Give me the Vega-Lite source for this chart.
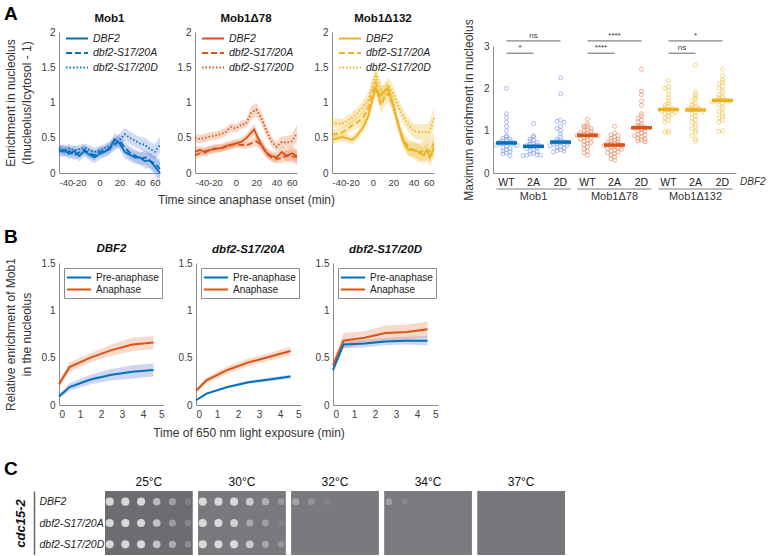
{
"$schema": "https://vega.github.io/schema/vega-lite/v6.json",
"padding": {"left": 4, "top": 4, "right": 0, "bottom": 0},
"background": "white",
"config": {
 "font": "Liberation Sans",
 "view": {"stroke": null},
 "axis": {"grid": false, "ticks": false, "labelOverlap": false, "domainColor": "#8c8c8c", "labelColor": "#3c3c3c", "labelFontSize": 10, "labelPadding": 4, "titleFontSize": 12, "titleFontWeight": "normal", "titleColor": "#333"},
 "title": {"fontSize": 11.5, "fontWeight": "bold", "color": "#111", "offset": 3},
 "legend": {"labelFontSize": 10.5, "labelColor": "#222"}
},
"datasets": {
 "lineA": [
  {"p":"Mob1","g":"DBF2","t":-40,"m":0.30,"e":0.08},{"p":"Mob1","g":"DBF2","t":-35,"m":0.33,"e":0.08},{"p":"Mob1","g":"DBF2","t":-30,"m":0.27,"e":0.08},{"p":"Mob1","g":"DBF2","t":-25,"m":0.31,"e":0.08},{"p":"Mob1","g":"DBF2","t":-20,"m":0.24,"e":0.08},{"p":"Mob1","g":"DBF2","t":-15,"m":0.31,"e":0.08},{"p":"Mob1","g":"DBF2","t":-10,"m":0.26,"e":0.08},{"p":"Mob1","g":"DBF2","t":-5,"m":0.22,"e":0.08},{"p":"Mob1","g":"DBF2","t":0,"m":0.27,"e":0.08},{"p":"Mob1","g":"DBF2","t":5,"m":0.30,"e":0.08},{"p":"Mob1","g":"DBF2","t":10,"m":0.34,"e":0.08},{"p":"Mob1","g":"DBF2","t":15,"m":0.48,"e":0.09},{"p":"Mob1","g":"DBF2","t":20,"m":0.42,"e":0.09},{"p":"Mob1","g":"DBF2","t":25,"m":0.30,"e":0.09},{"p":"Mob1","g":"DBF2","t":30,"m":0.26,"e":0.09},{"p":"Mob1","g":"DBF2","t":35,"m":0.22,"e":0.09},{"p":"Mob1","g":"DBF2","t":40,"m":0.22,"e":0.09},{"p":"Mob1","g":"DBF2","t":45,"m":0.17,"e":0.11},{"p":"Mob1","g":"DBF2","t":50,"m":0.18,"e":0.11},{"p":"Mob1","g":"DBF2","t":55,"m":0.09,"e":0.13},{"p":"Mob1","g":"DBF2","t":60,"m":0.0,"e":0.15},
  {"p":"Mob1","g":"dbf2-S17/20A","t":-40,"m":0.33,"e":0.07},{"p":"Mob1","g":"dbf2-S17/20A","t":-35,"m":0.30,"e":0.07},{"p":"Mob1","g":"dbf2-S17/20A","t":-30,"m":0.31,"e":0.07},{"p":"Mob1","g":"dbf2-S17/20A","t":-25,"m":0.25,"e":0.07},{"p":"Mob1","g":"dbf2-S17/20A","t":-20,"m":0.29,"e":0.07},{"p":"Mob1","g":"dbf2-S17/20A","t":-15,"m":0.33,"e":0.07},{"p":"Mob1","g":"dbf2-S17/20A","t":-10,"m":0.28,"e":0.07},{"p":"Mob1","g":"dbf2-S17/20A","t":-5,"m":0.25,"e":0.07},{"p":"Mob1","g":"dbf2-S17/20A","t":0,"m":0.30,"e":0.07},{"p":"Mob1","g":"dbf2-S17/20A","t":5,"m":0.31,"e":0.07},{"p":"Mob1","g":"dbf2-S17/20A","t":10,"m":0.35,"e":0.08},{"p":"Mob1","g":"dbf2-S17/20A","t":15,"m":0.40,"e":0.08},{"p":"Mob1","g":"dbf2-S17/20A","t":20,"m":0.46,"e":0.09},{"p":"Mob1","g":"dbf2-S17/20A","t":25,"m":0.36,"e":0.09},{"p":"Mob1","g":"dbf2-S17/20A","t":30,"m":0.29,"e":0.09},{"p":"Mob1","g":"dbf2-S17/20A","t":35,"m":0.25,"e":0.09},{"p":"Mob1","g":"dbf2-S17/20A","t":40,"m":0.20,"e":0.09},{"p":"Mob1","g":"dbf2-S17/20A","t":45,"m":0.22,"e":0.10},{"p":"Mob1","g":"dbf2-S17/20A","t":50,"m":0.17,"e":0.11},{"p":"Mob1","g":"dbf2-S17/20A","t":55,"m":0.13,"e":0.12},{"p":"Mob1","g":"dbf2-S17/20A","t":60,"m":0.06,"e":0.13},
  {"p":"Mob1","g":"dbf2-S17/20D","t":-40,"m":0.36,"e":0.06},{"p":"Mob1","g":"dbf2-S17/20D","t":-35,"m":0.32,"e":0.06},{"p":"Mob1","g":"dbf2-S17/20D","t":-30,"m":0.35,"e":0.06},{"p":"Mob1","g":"dbf2-S17/20D","t":-25,"m":0.32,"e":0.06},{"p":"Mob1","g":"dbf2-S17/20D","t":-20,"m":0.34,"e":0.06},{"p":"Mob1","g":"dbf2-S17/20D","t":-15,"m":0.36,"e":0.06},{"p":"Mob1","g":"dbf2-S17/20D","t":-10,"m":0.33,"e":0.06},{"p":"Mob1","g":"dbf2-S17/20D","t":-5,"m":0.30,"e":0.06},{"p":"Mob1","g":"dbf2-S17/20D","t":0,"m":0.32,"e":0.06},{"p":"Mob1","g":"dbf2-S17/20D","t":5,"m":0.35,"e":0.06},{"p":"Mob1","g":"dbf2-S17/20D","t":10,"m":0.38,"e":0.07},{"p":"Mob1","g":"dbf2-S17/20D","t":15,"m":0.42,"e":0.08},{"p":"Mob1","g":"dbf2-S17/20D","t":20,"m":0.47,"e":0.09},{"p":"Mob1","g":"dbf2-S17/20D","t":25,"m":0.55,"e":0.09},{"p":"Mob1","g":"dbf2-S17/20D","t":30,"m":0.50,"e":0.09},{"p":"Mob1","g":"dbf2-S17/20D","t":35,"m":0.46,"e":0.09},{"p":"Mob1","g":"dbf2-S17/20D","t":40,"m":0.42,"e":0.09},{"p":"Mob1","g":"dbf2-S17/20D","t":45,"m":0.40,"e":0.10},{"p":"Mob1","g":"dbf2-S17/20D","t":50,"m":0.34,"e":0.10},{"p":"Mob1","g":"dbf2-S17/20D","t":55,"m":0.30,"e":0.11},{"p":"Mob1","g":"dbf2-S17/20D","t":60,"m":0.40,"e":0.12},
  {"p":"Mob1Δ78","g":"DBF2","t":-40,"m":0.30,"e":0.06},{"p":"Mob1Δ78","g":"DBF2","t":-35,"m":0.33,"e":0.06},{"p":"Mob1Δ78","g":"DBF2","t":-30,"m":0.29,"e":0.06},{"p":"Mob1Δ78","g":"DBF2","t":-25,"m":0.33,"e":0.06},{"p":"Mob1Δ78","g":"DBF2","t":-20,"m":0.35,"e":0.06},{"p":"Mob1Δ78","g":"DBF2","t":-15,"m":0.35,"e":0.06},{"p":"Mob1Δ78","g":"DBF2","t":-10,"m":0.38,"e":0.06},{"p":"Mob1Δ78","g":"DBF2","t":-5,"m":0.40,"e":0.06},{"p":"Mob1Δ78","g":"DBF2","t":0,"m":0.42,"e":0.06},{"p":"Mob1Δ78","g":"DBF2","t":5,"m":0.44,"e":0.06},{"p":"Mob1Δ78","g":"DBF2","t":10,"m":0.49,"e":0.06},{"p":"Mob1Δ78","g":"DBF2","t":15,"m":0.57,"e":0.08},{"p":"Mob1Δ78","g":"DBF2","t":18,"m":0.62,"e":0.08},{"p":"Mob1Δ78","g":"DBF2","t":20,"m":0.55,"e":0.08},{"p":"Mob1Δ78","g":"DBF2","t":25,"m":0.40,"e":0.08},{"p":"Mob1Δ78","g":"DBF2","t":30,"m":0.29,"e":0.07},{"p":"Mob1Δ78","g":"DBF2","t":35,"m":0.24,"e":0.07},{"p":"Mob1Δ78","g":"DBF2","t":40,"m":0.22,"e":0.07},{"p":"Mob1Δ78","g":"DBF2","t":45,"m":0.30,"e":0.08},{"p":"Mob1Δ78","g":"DBF2","t":50,"m":0.24,"e":0.09},{"p":"Mob1Δ78","g":"DBF2","t":55,"m":0.28,"e":0.09},{"p":"Mob1Δ78","g":"DBF2","t":60,"m":0.24,"e":0.10},
  {"p":"Mob1Δ78","g":"dbf2-S17/20A","t":-40,"m":0.25,"e":0.05},{"p":"Mob1Δ78","g":"dbf2-S17/20A","t":-35,"m":0.28,"e":0.05},{"p":"Mob1Δ78","g":"dbf2-S17/20A","t":-30,"m":0.31,"e":0.05},{"p":"Mob1Δ78","g":"dbf2-S17/20A","t":-25,"m":0.33,"e":0.05},{"p":"Mob1Δ78","g":"dbf2-S17/20A","t":-20,"m":0.34,"e":0.05},{"p":"Mob1Δ78","g":"dbf2-S17/20A","t":-15,"m":0.35,"e":0.05},{"p":"Mob1Δ78","g":"dbf2-S17/20A","t":-10,"m":0.37,"e":0.05},{"p":"Mob1Δ78","g":"dbf2-S17/20A","t":-5,"m":0.39,"e":0.05},{"p":"Mob1Δ78","g":"dbf2-S17/20A","t":0,"m":0.41,"e":0.05},{"p":"Mob1Δ78","g":"dbf2-S17/20A","t":5,"m":0.40,"e":0.05},{"p":"Mob1Δ78","g":"dbf2-S17/20A","t":10,"m":0.39,"e":0.05},{"p":"Mob1Δ78","g":"dbf2-S17/20A","t":15,"m":0.42,"e":0.06},{"p":"Mob1Δ78","g":"dbf2-S17/20A","t":20,"m":0.45,"e":0.07},{"p":"Mob1Δ78","g":"dbf2-S17/20A","t":25,"m":0.40,"e":0.07},{"p":"Mob1Δ78","g":"dbf2-S17/20A","t":30,"m":0.28,"e":0.06},{"p":"Mob1Δ78","g":"dbf2-S17/20A","t":35,"m":0.22,"e":0.06},{"p":"Mob1Δ78","g":"dbf2-S17/20A","t":40,"m":0.20,"e":0.06},{"p":"Mob1Δ78","g":"dbf2-S17/20A","t":45,"m":0.21,"e":0.07},{"p":"Mob1Δ78","g":"dbf2-S17/20A","t":50,"m":0.25,"e":0.08},{"p":"Mob1Δ78","g":"dbf2-S17/20A","t":55,"m":0.24,"e":0.09},{"p":"Mob1Δ78","g":"dbf2-S17/20A","t":60,"m":0.22,"e":0.10},
  {"p":"Mob1Δ78","g":"dbf2-S17/20D","t":-40,"m":0.50,"e":0.06},{"p":"Mob1Δ78","g":"dbf2-S17/20D","t":-35,"m":0.48,"e":0.06},{"p":"Mob1Δ78","g":"dbf2-S17/20D","t":-30,"m":0.50,"e":0.06},{"p":"Mob1Δ78","g":"dbf2-S17/20D","t":-25,"m":0.52,"e":0.06},{"p":"Mob1Δ78","g":"dbf2-S17/20D","t":-20,"m":0.53,"e":0.06},{"p":"Mob1Δ78","g":"dbf2-S17/20D","t":-15,"m":0.55,"e":0.06},{"p":"Mob1Δ78","g":"dbf2-S17/20D","t":-10,"m":0.58,"e":0.06},{"p":"Mob1Δ78","g":"dbf2-S17/20D","t":-5,"m":0.65,"e":0.06},{"p":"Mob1Δ78","g":"dbf2-S17/20D","t":0,"m":0.63,"e":0.06},{"p":"Mob1Δ78","g":"dbf2-S17/20D","t":5,"m":0.68,"e":0.06},{"p":"Mob1Δ78","g":"dbf2-S17/20D","t":10,"m":0.70,"e":0.06},{"p":"Mob1Δ78","g":"dbf2-S17/20D","t":15,"m":0.85,"e":0.09},{"p":"Mob1Δ78","g":"dbf2-S17/20D","t":20,"m":0.90,"e":0.10},{"p":"Mob1Δ78","g":"dbf2-S17/20D","t":25,"m":0.78,"e":0.09},{"p":"Mob1Δ78","g":"dbf2-S17/20D","t":30,"m":0.60,"e":0.08},{"p":"Mob1Δ78","g":"dbf2-S17/20D","t":35,"m":0.45,"e":0.07},{"p":"Mob1Δ78","g":"dbf2-S17/20D","t":40,"m":0.37,"e":0.07},{"p":"Mob1Δ78","g":"dbf2-S17/20D","t":45,"m":0.44,"e":0.08},{"p":"Mob1Δ78","g":"dbf2-S17/20D","t":50,"m":0.43,"e":0.09},{"p":"Mob1Δ78","g":"dbf2-S17/20D","t":55,"m":0.45,"e":0.10},{"p":"Mob1Δ78","g":"dbf2-S17/20D","t":60,"m":0.56,"e":0.12},
  {"p":"Mob1Δ132","g":"DBF2","t":-40,"m":0.47,"e":0.06},{"p":"Mob1Δ132","g":"DBF2","t":-35,"m":0.49,"e":0.06},{"p":"Mob1Δ132","g":"DBF2","t":-30,"m":0.51,"e":0.06},{"p":"Mob1Δ132","g":"DBF2","t":-25,"m":0.49,"e":0.06},{"p":"Mob1Δ132","g":"DBF2","t":-20,"m":0.47,"e":0.06},{"p":"Mob1Δ132","g":"DBF2","t":-15,"m":0.54,"e":0.07},{"p":"Mob1Δ132","g":"DBF2","t":-10,"m":0.64,"e":0.08},{"p":"Mob1Δ132","g":"DBF2","t":-5,"m":0.78,"e":0.09},{"p":"Mob1Δ132","g":"DBF2","t":0,"m":1.05,"e":0.10},{"p":"Mob1Δ132","g":"DBF2","t":3,"m":1.20,"e":0.10},{"p":"Mob1Δ132","g":"DBF2","t":6,"m":1.08,"e":0.10},{"p":"Mob1Δ132","g":"DBF2","t":10,"m":1.15,"e":0.10},{"p":"Mob1Δ132","g":"DBF2","t":15,"m":1.19,"e":0.10},{"p":"Mob1Δ132","g":"DBF2","t":20,"m":0.96,"e":0.10},{"p":"Mob1Δ132","g":"DBF2","t":25,"m":0.68,"e":0.09},{"p":"Mob1Δ132","g":"DBF2","t":30,"m":0.44,"e":0.09},{"p":"Mob1Δ132","g":"DBF2","t":35,"m":0.33,"e":0.09},{"p":"Mob1Δ132","g":"DBF2","t":40,"m":0.33,"e":0.10},{"p":"Mob1Δ132","g":"DBF2","t":45,"m":0.30,"e":0.11},{"p":"Mob1Δ132","g":"DBF2","t":50,"m":0.25,"e":0.12},{"p":"Mob1Δ132","g":"DBF2","t":53,"m":0.33,"e":0.12},{"p":"Mob1Δ132","g":"DBF2","t":56,"m":0.22,"e":0.13},{"p":"Mob1Δ132","g":"DBF2","t":60,"m":0.36,"e":0.14},
  {"p":"Mob1Δ132","g":"dbf2-S17/20A","t":-40,"m":0.54,"e":0.07},{"p":"Mob1Δ132","g":"dbf2-S17/20A","t":-35,"m":0.56,"e":0.07},{"p":"Mob1Δ132","g":"dbf2-S17/20A","t":-30,"m":0.58,"e":0.07},{"p":"Mob1Δ132","g":"dbf2-S17/20A","t":-25,"m":0.62,"e":0.07},{"p":"Mob1Δ132","g":"dbf2-S17/20A","t":-20,"m":0.68,"e":0.08},{"p":"Mob1Δ132","g":"dbf2-S17/20A","t":-15,"m":0.72,"e":0.08},{"p":"Mob1Δ132","g":"dbf2-S17/20A","t":-10,"m":0.78,"e":0.09},{"p":"Mob1Δ132","g":"dbf2-S17/20A","t":-5,"m":0.90,"e":0.10},{"p":"Mob1Δ132","g":"dbf2-S17/20A","t":0,"m":1.15,"e":0.12},{"p":"Mob1Δ132","g":"dbf2-S17/20A","t":3,"m":1.28,"e":0.12},{"p":"Mob1Δ132","g":"dbf2-S17/20A","t":8,"m":0.96,"e":0.12},{"p":"Mob1Δ132","g":"dbf2-S17/20A","t":12,"m":1.08,"e":0.12},{"p":"Mob1Δ132","g":"dbf2-S17/20A","t":15,"m":1.13,"e":0.12},{"p":"Mob1Δ132","g":"dbf2-S17/20A","t":20,"m":0.96,"e":0.11},{"p":"Mob1Δ132","g":"dbf2-S17/20A","t":25,"m":0.68,"e":0.10},{"p":"Mob1Δ132","g":"dbf2-S17/20A","t":30,"m":0.47,"e":0.10},{"p":"Mob1Δ132","g":"dbf2-S17/20A","t":35,"m":0.36,"e":0.11},{"p":"Mob1Δ132","g":"dbf2-S17/20A","t":40,"m":0.33,"e":0.12},{"p":"Mob1Δ132","g":"dbf2-S17/20A","t":45,"m":0.28,"e":0.13},{"p":"Mob1Δ132","g":"dbf2-S17/20A","t":50,"m":0.33,"e":0.14},{"p":"Mob1Δ132","g":"dbf2-S17/20A","t":55,"m":0.30,"e":0.15},{"p":"Mob1Δ132","g":"dbf2-S17/20A","t":60,"m":0.42,"e":0.16},
  {"p":"Mob1Δ132","g":"dbf2-S17/20D","t":-40,"m":0.72,"e":0.07},{"p":"Mob1Δ132","g":"dbf2-S17/20D","t":-35,"m":0.70,"e":0.07},{"p":"Mob1Δ132","g":"dbf2-S17/20D","t":-30,"m":0.70,"e":0.07},{"p":"Mob1Δ132","g":"dbf2-S17/20D","t":-25,"m":0.74,"e":0.07},{"p":"Mob1Δ132","g":"dbf2-S17/20D","t":-20,"m":0.79,"e":0.08},{"p":"Mob1Δ132","g":"dbf2-S17/20D","t":-15,"m":0.85,"e":0.08},{"p":"Mob1Δ132","g":"dbf2-S17/20D","t":-10,"m":0.93,"e":0.09},{"p":"Mob1Δ132","g":"dbf2-S17/20D","t":-5,"m":1.02,"e":0.10},{"p":"Mob1Δ132","g":"dbf2-S17/20D","t":0,"m":1.25,"e":0.11},{"p":"Mob1Δ132","g":"dbf2-S17/20D","t":3,"m":1.42,"e":0.12},{"p":"Mob1Δ132","g":"dbf2-S17/20D","t":6,"m":1.25,"e":0.12},{"p":"Mob1Δ132","g":"dbf2-S17/20D","t":10,"m":1.12,"e":0.11},{"p":"Mob1Δ132","g":"dbf2-S17/20D","t":15,"m":1.25,"e":0.11},{"p":"Mob1Δ132","g":"dbf2-S17/20D","t":20,"m":1.12,"e":0.11},{"p":"Mob1Δ132","g":"dbf2-S17/20D","t":25,"m":0.95,"e":0.10},{"p":"Mob1Δ132","g":"dbf2-S17/20D","t":30,"m":0.80,"e":0.10},{"p":"Mob1Δ132","g":"dbf2-S17/20D","t":35,"m":0.68,"e":0.10},{"p":"Mob1Δ132","g":"dbf2-S17/20D","t":40,"m":0.60,"e":0.10},{"p":"Mob1Δ132","g":"dbf2-S17/20D","t":45,"m":0.58,"e":0.11},{"p":"Mob1Δ132","g":"dbf2-S17/20D","t":50,"m":0.58,"e":0.12},{"p":"Mob1Δ132","g":"dbf2-S17/20D","t":55,"m":0.58,"e":0.13},{"p":"Mob1Δ132","g":"dbf2-S17/20D","t":60,"m":0.78,"e":0.14}
 ],
 "lineB": [
  {"s":"DBF2","ph":"Anaphase","t":0,"m":0.22,"e":0.04},{"s":"DBF2","ph":"Anaphase","t":0.5,"m":0.40,"e":0.05},{"s":"DBF2","ph":"Anaphase","t":1.5,"m":0.50,"e":0.05},{"s":"DBF2","ph":"Anaphase","t":2.5,"m":0.58,"e":0.06},{"s":"DBF2","ph":"Anaphase","t":3.5,"m":0.64,"e":0.07},{"s":"DBF2","ph":"Anaphase","t":4.5,"m":0.66,"e":0.07},
  {"s":"DBF2","ph":"Pre-anaphase","t":0,"m":0.09,"e":0.02},{"s":"DBF2","ph":"Pre-anaphase","t":0.5,"m":0.19,"e":0.04},{"s":"DBF2","ph":"Pre-anaphase","t":1.5,"m":0.27,"e":0.05},{"s":"DBF2","ph":"Pre-anaphase","t":2.5,"m":0.32,"e":0.06},{"s":"DBF2","ph":"Pre-anaphase","t":3.5,"m":0.35,"e":0.07},{"s":"DBF2","ph":"Pre-anaphase","t":4.5,"m":0.37,"e":0.07},
  {"s":"dbf2-S17/20A","ph":"Anaphase","t":0,"m":0.15,"e":0.02},{"s":"dbf2-S17/20A","ph":"Anaphase","t":0.5,"m":0.26,"e":0.03},{"s":"dbf2-S17/20A","ph":"Anaphase","t":1.5,"m":0.37,"e":0.04},{"s":"dbf2-S17/20A","ph":"Anaphase","t":2.5,"m":0.45,"e":0.04},{"s":"dbf2-S17/20A","ph":"Anaphase","t":3.5,"m":0.51,"e":0.04},{"s":"dbf2-S17/20A","ph":"Anaphase","t":4.5,"m":0.57,"e":0.045},
  {"s":"dbf2-S17/20A","ph":"Pre-anaphase","t":0,"m":0.05,"e":0.01},{"s":"dbf2-S17/20A","ph":"Pre-anaphase","t":0.5,"m":0.12,"e":0.01},{"s":"dbf2-S17/20A","ph":"Pre-anaphase","t":1.5,"m":0.19,"e":0.012},{"s":"dbf2-S17/20A","ph":"Pre-anaphase","t":2.5,"m":0.24,"e":0.015},{"s":"dbf2-S17/20A","ph":"Pre-anaphase","t":3.5,"m":0.27,"e":0.02},{"s":"dbf2-S17/20A","ph":"Pre-anaphase","t":4.5,"m":0.30,"e":0.02},
  {"s":"dbf2-S17/20D","ph":"Anaphase","t":0,"m":0.42,"e":0.05},{"s":"dbf2-S17/20D","ph":"Anaphase","t":0.5,"m":0.68,"e":0.08},{"s":"dbf2-S17/20D","ph":"Anaphase","t":1.5,"m":0.71,"e":0.07},{"s":"dbf2-S17/20D","ph":"Anaphase","t":2.5,"m":0.76,"e":0.08},{"s":"dbf2-S17/20D","ph":"Anaphase","t":3.5,"m":0.77,"e":0.08},{"s":"dbf2-S17/20D","ph":"Anaphase","t":4.5,"m":0.80,"e":0.08},
  {"s":"dbf2-S17/20D","ph":"Pre-anaphase","t":0,"m":0.37,"e":0.04},{"s":"dbf2-S17/20D","ph":"Pre-anaphase","t":0.5,"m":0.64,"e":0.04},{"s":"dbf2-S17/20D","ph":"Pre-anaphase","t":1.5,"m":0.65,"e":0.04},{"s":"dbf2-S17/20D","ph":"Pre-anaphase","t":2.5,"m":0.67,"e":0.04},{"s":"dbf2-S17/20D","ph":"Pre-anaphase","t":3.5,"m":0.68,"e":0.04},{"s":"dbf2-S17/20D","ph":"Pre-anaphase","t":4.5,"m":0.68,"e":0.05}
 ],
 "dots": [
  {"c":"Mob1|WT","v":2.0},{"c":"Mob1|WT","v":1.40},{"c":"Mob1|WT","v":1.31},{"c":"Mob1|WT","v":1.20},{"c":"Mob1|WT","v":1.10},{"c":"Mob1|WT","v":1.00},{"c":"Mob1|WT","v":0.88},{"c":"Mob1|WT","v":0.85},{"c":"Mob1|WT","v":0.82},{"c":"Mob1|WT","v":0.80},{"c":"Mob1|WT","v":0.78},{"c":"Mob1|WT","v":0.76},{"c":"Mob1|WT","v":0.75},{"c":"Mob1|WT","v":0.73},{"c":"Mob1|WT","v":0.72},{"c":"Mob1|WT","v":0.71},{"c":"Mob1|WT","v":0.70},{"c":"Mob1|WT","v":0.70},{"c":"Mob1|WT","v":0.69},{"c":"Mob1|WT","v":0.68},{"c":"Mob1|WT","v":0.66},{"c":"Mob1|WT","v":0.65},{"c":"Mob1|WT","v":0.63},{"c":"Mob1|WT","v":0.60},{"c":"Mob1|WT","v":0.58},{"c":"Mob1|WT","v":0.55},{"c":"Mob1|WT","v":0.52},{"c":"Mob1|WT","v":0.50},{"c":"Mob1|WT","v":0.47},{"c":"Mob1|WT","v":0.45},{"c":"Mob1|WT","v":0.41},
  {"c":"Mob1|2A","v":1.17},{"c":"Mob1|2A","v":0.88},{"c":"Mob1|2A","v":0.85},{"c":"Mob1|2A","v":0.80},{"c":"Mob1|2A","v":0.78},{"c":"Mob1|2A","v":0.75},{"c":"Mob1|2A","v":0.72},{"c":"Mob1|2A","v":0.70},{"c":"Mob1|2A","v":0.68},{"c":"Mob1|2A","v":0.66},{"c":"Mob1|2A","v":0.65},{"c":"Mob1|2A","v":0.64},{"c":"Mob1|2A","v":0.63},{"c":"Mob1|2A","v":0.62},{"c":"Mob1|2A","v":0.60},{"c":"Mob1|2A","v":0.58},{"c":"Mob1|2A","v":0.55},{"c":"Mob1|2A","v":0.52},{"c":"Mob1|2A","v":0.50},{"c":"Mob1|2A","v":0.47},{"c":"Mob1|2A","v":0.45},{"c":"Mob1|2A","v":0.43},{"c":"Mob1|2A","v":0.42},{"c":"Mob1|2A","v":0.42},{"c":"Mob1|2A","v":0.41},
  {"c":"Mob1|2D","v":2.25},{"c":"Mob1|2D","v":1.87},{"c":"Mob1|2D","v":1.25},{"c":"Mob1|2D","v":1.22},{"c":"Mob1|2D","v":1.20},{"c":"Mob1|2D","v":1.10},{"c":"Mob1|2D","v":1.05},{"c":"Mob1|2D","v":1.00},{"c":"Mob1|2D","v":0.92},{"c":"Mob1|2D","v":0.85},{"c":"Mob1|2D","v":0.80},{"c":"Mob1|2D","v":0.77},{"c":"Mob1|2D","v":0.75},{"c":"Mob1|2D","v":0.74},{"c":"Mob1|2D","v":0.73},{"c":"Mob1|2D","v":0.72},{"c":"Mob1|2D","v":0.71},{"c":"Mob1|2D","v":0.70},{"c":"Mob1|2D","v":0.69},{"c":"Mob1|2D","v":0.68},{"c":"Mob1|2D","v":0.66},{"c":"Mob1|2D","v":0.64},{"c":"Mob1|2D","v":0.62},{"c":"Mob1|2D","v":0.60},{"c":"Mob1|2D","v":0.58},{"c":"Mob1|2D","v":0.55},{"c":"Mob1|2D","v":0.53},{"c":"Mob1|2D","v":0.52},{"c":"Mob1|2D","v":0.50},
  {"c":"Mob1Δ78|WT","v":1.27},{"c":"Mob1Δ78|WT","v":1.15},{"c":"Mob1Δ78|WT","v":1.12},{"c":"Mob1Δ78|WT","v":1.10},{"c":"Mob1Δ78|WT","v":1.08},{"c":"Mob1Δ78|WT","v":1.05},{"c":"Mob1Δ78|WT","v":1.02},{"c":"Mob1Δ78|WT","v":1.00},{"c":"Mob1Δ78|WT","v":0.98},{"c":"Mob1Δ78|WT","v":0.96},{"c":"Mob1Δ78|WT","v":0.94},{"c":"Mob1Δ78|WT","v":0.92},{"c":"Mob1Δ78|WT","v":0.91},{"c":"Mob1Δ78|WT","v":0.90},{"c":"Mob1Δ78|WT","v":0.90},{"c":"Mob1Δ78|WT","v":0.89},{"c":"Mob1Δ78|WT","v":0.88},{"c":"Mob1Δ78|WT","v":0.86},{"c":"Mob1Δ78|WT","v":0.84},{"c":"Mob1Δ78|WT","v":0.82},{"c":"Mob1Δ78|WT","v":0.80},{"c":"Mob1Δ78|WT","v":0.78},{"c":"Mob1Δ78|WT","v":0.75},{"c":"Mob1Δ78|WT","v":0.72},{"c":"Mob1Δ78|WT","v":0.70},{"c":"Mob1Δ78|WT","v":0.66},{"c":"Mob1Δ78|WT","v":0.62},{"c":"Mob1Δ78|WT","v":0.58},{"c":"Mob1Δ78|WT","v":0.52},{"c":"Mob1Δ78|WT","v":0.48},{"c":"Mob1Δ78|WT","v":0.42},
  {"c":"Mob1Δ78|2A","v":1.10},{"c":"Mob1Δ78|2A","v":0.95},{"c":"Mob1Δ78|2A","v":0.90},{"c":"Mob1Δ78|2A","v":0.88},{"c":"Mob1Δ78|2A","v":0.85},{"c":"Mob1Δ78|2A","v":0.82},{"c":"Mob1Δ78|2A","v":0.80},{"c":"Mob1Δ78|2A","v":0.78},{"c":"Mob1Δ78|2A","v":0.76},{"c":"Mob1Δ78|2A","v":0.74},{"c":"Mob1Δ78|2A","v":0.72},{"c":"Mob1Δ78|2A","v":0.70},{"c":"Mob1Δ78|2A","v":0.69},{"c":"Mob1Δ78|2A","v":0.68},{"c":"Mob1Δ78|2A","v":0.67},{"c":"Mob1Δ78|2A","v":0.66},{"c":"Mob1Δ78|2A","v":0.65},{"c":"Mob1Δ78|2A","v":0.63},{"c":"Mob1Δ78|2A","v":0.62},{"c":"Mob1Δ78|2A","v":0.60},{"c":"Mob1Δ78|2A","v":0.58},{"c":"Mob1Δ78|2A","v":0.56},{"c":"Mob1Δ78|2A","v":0.54},{"c":"Mob1Δ78|2A","v":0.52},{"c":"Mob1Δ78|2A","v":0.50},{"c":"Mob1Δ78|2A","v":0.48},{"c":"Mob1Δ78|2A","v":0.45},{"c":"Mob1Δ78|2A","v":0.42},{"c":"Mob1Δ78|2A","v":0.38},{"c":"Mob1Δ78|2A","v":0.34},{"c":"Mob1Δ78|2A","v":0.30},
  {"c":"Mob1Δ78|2D","v":2.45},{"c":"Mob1Δ78|2D","v":1.93},{"c":"Mob1Δ78|2D","v":1.85},{"c":"Mob1Δ78|2D","v":1.70},{"c":"Mob1Δ78|2D","v":1.60},{"c":"Mob1Δ78|2D","v":1.40},{"c":"Mob1Δ78|2D","v":1.35},{"c":"Mob1Δ78|2D","v":1.30},{"c":"Mob1Δ78|2D","v":1.25},{"c":"Mob1Δ78|2D","v":1.20},{"c":"Mob1Δ78|2D","v":1.15},{"c":"Mob1Δ78|2D","v":1.12},{"c":"Mob1Δ78|2D","v":1.10},{"c":"Mob1Δ78|2D","v":1.08},{"c":"Mob1Δ78|2D","v":1.07},{"c":"Mob1Δ78|2D","v":1.05},{"c":"Mob1Δ78|2D","v":1.02},{"c":"Mob1Δ78|2D","v":1.00},{"c":"Mob1Δ78|2D","v":0.98},{"c":"Mob1Δ78|2D","v":0.95},{"c":"Mob1Δ78|2D","v":0.92},{"c":"Mob1Δ78|2D","v":0.90},{"c":"Mob1Δ78|2D","v":0.88},{"c":"Mob1Δ78|2D","v":0.85},{"c":"Mob1Δ78|2D","v":0.82},{"c":"Mob1Δ78|2D","v":0.80},{"c":"Mob1Δ78|2D","v":0.78},{"c":"Mob1Δ78|2D","v":0.76},{"c":"Mob1Δ78|2D","v":0.74},
  {"c":"Mob1Δ132|WT","v":2.18},{"c":"Mob1Δ132|WT","v":2.05},{"c":"Mob1Δ132|WT","v":2.00},{"c":"Mob1Δ132|WT","v":1.95},{"c":"Mob1Δ132|WT","v":1.85},{"c":"Mob1Δ132|WT","v":1.78},{"c":"Mob1Δ132|WT","v":1.70},{"c":"Mob1Δ132|WT","v":1.65},{"c":"Mob1Δ132|WT","v":1.60},{"c":"Mob1Δ132|WT","v":1.57},{"c":"Mob1Δ132|WT","v":1.55},{"c":"Mob1Δ132|WT","v":1.52},{"c":"Mob1Δ132|WT","v":1.50},{"c":"Mob1Δ132|WT","v":1.50},{"c":"Mob1Δ132|WT","v":1.48},{"c":"Mob1Δ132|WT","v":1.46},{"c":"Mob1Δ132|WT","v":1.44},{"c":"Mob1Δ132|WT","v":1.42},{"c":"Mob1Δ132|WT","v":1.40},{"c":"Mob1Δ132|WT","v":1.38},{"c":"Mob1Δ132|WT","v":1.35},{"c":"Mob1Δ132|WT","v":1.30},{"c":"Mob1Δ132|WT","v":1.25},{"c":"Mob1Δ132|WT","v":1.20},{"c":"Mob1Δ132|WT","v":1.00},{"c":"Mob1Δ132|WT","v":0.97},{"c":"Mob1Δ132|WT","v":0.95},
  {"c":"Mob1Δ132|2A","v":2.55},{"c":"Mob1Δ132|2A","v":1.92},{"c":"Mob1Δ132|2A","v":1.85},{"c":"Mob1Δ132|2A","v":1.80},{"c":"Mob1Δ132|2A","v":1.75},{"c":"Mob1Δ132|2A","v":1.70},{"c":"Mob1Δ132|2A","v":1.65},{"c":"Mob1Δ132|2A","v":1.60},{"c":"Mob1Δ132|2A","v":1.57},{"c":"Mob1Δ132|2A","v":1.55},{"c":"Mob1Δ132|2A","v":1.53},{"c":"Mob1Δ132|2A","v":1.52},{"c":"Mob1Δ132|2A","v":1.51},{"c":"Mob1Δ132|2A","v":1.50},{"c":"Mob1Δ132|2A","v":1.50},{"c":"Mob1Δ132|2A","v":1.49},{"c":"Mob1Δ132|2A","v":1.45},{"c":"Mob1Δ132|2A","v":1.42},{"c":"Mob1Δ132|2A","v":1.40},{"c":"Mob1Δ132|2A","v":1.35},{"c":"Mob1Δ132|2A","v":1.30},{"c":"Mob1Δ132|2A","v":1.25},{"c":"Mob1Δ132|2A","v":1.20},{"c":"Mob1Δ132|2A","v":1.15},{"c":"Mob1Δ132|2A","v":1.10},{"c":"Mob1Δ132|2A","v":1.05},{"c":"Mob1Δ132|2A","v":1.00},{"c":"Mob1Δ132|2A","v":0.95},{"c":"Mob1Δ132|2A","v":0.88},{"c":"Mob1Δ132|2A","v":0.80},{"c":"Mob1Δ132|2A","v":0.75},
  {"c":"Mob1Δ132|2D","v":2.45},{"c":"Mob1Δ132|2D","v":2.30},{"c":"Mob1Δ132|2D","v":2.20},{"c":"Mob1Δ132|2D","v":2.15},{"c":"Mob1Δ132|2D","v":2.10},{"c":"Mob1Δ132|2D","v":2.05},{"c":"Mob1Δ132|2D","v":2.00},{"c":"Mob1Δ132|2D","v":1.95},{"c":"Mob1Δ132|2D","v":1.90},{"c":"Mob1Δ132|2D","v":1.85},{"c":"Mob1Δ132|2D","v":1.80},{"c":"Mob1Δ132|2D","v":1.78},{"c":"Mob1Δ132|2D","v":1.75},{"c":"Mob1Δ132|2D","v":1.73},{"c":"Mob1Δ132|2D","v":1.72},{"c":"Mob1Δ132|2D","v":1.71},{"c":"Mob1Δ132|2D","v":1.70},{"c":"Mob1Δ132|2D","v":1.68},{"c":"Mob1Δ132|2D","v":1.65},{"c":"Mob1Δ132|2D","v":1.60},{"c":"Mob1Δ132|2D","v":1.55},{"c":"Mob1Δ132|2D","v":1.50},{"c":"Mob1Δ132|2D","v":1.45},{"c":"Mob1Δ132|2D","v":1.40},{"c":"Mob1Δ132|2D","v":1.35},{"c":"Mob1Δ132|2D","v":1.30},{"c":"Mob1Δ132|2D","v":1.25},{"c":"Mob1Δ132|2D","v":1.20},{"c":"Mob1Δ132|2D","v":1.00},{"c":"Mob1Δ132|2D","v":0.98}
 ],
 "sig": [
  {"a":"Mob1|WT","b":"Mob1|2A","y":2.83,"s":"*","k":"short"},
  {"a":"Mob1|WT","b":"Mob1|2D","y":3.12,"s":"ns","k":"long","mid":"Mob1|2A"},
  {"a":"Mob1Δ78|WT","b":"Mob1Δ78|2A","y":2.83,"s":"****","k":"short"},
  {"a":"Mob1Δ78|WT","b":"Mob1Δ78|2D","y":3.12,"s":"****","k":"long","mid":"Mob1Δ78|2A"},
  {"a":"Mob1Δ132|WT","b":"Mob1Δ132|2A","y":2.83,"s":"ns","k":"short"},
  {"a":"Mob1Δ132|WT","b":"Mob1Δ132|2D","y":3.12,"s":"*","k":"long","mid":"Mob1Δ132|2A"}
 ],
 "groups": [
  {"g":"Mob1","a":"Mob1|WT","b":"Mob1|2D","mid":"Mob1|2A"},
  {"g":"Mob1Δ78","a":"Mob1Δ78|WT","b":"Mob1Δ78|2D","mid":"Mob1Δ78|2A"},
  {"g":"Mob1Δ132","a":"Mob1Δ132|WT","b":"Mob1Δ132|2D","mid":"Mob1Δ132|2A"}
 ],
 "plates": [{"temp":"25°C"},{"temp":"30°C"},{"temp":"32°C"},{"temp":"34°C"},{"temp":"37°C"}],
 "spots": [
  {"temp":"25°C","strain":"DBF2","dil":1,"gr":1},{"temp":"25°C","strain":"DBF2","dil":2,"gr":1},{"temp":"25°C","strain":"DBF2","dil":3,"gr":1},{"temp":"25°C","strain":"DBF2","dil":4,"gr":0.7},{"temp":"25°C","strain":"DBF2","dil":5,"gr":0.5},{"temp":"25°C","strain":"DBF2","dil":6,"gr":0.2},
  {"temp":"25°C","strain":"dbf2-S17/20A","dil":1,"gr":1},{"temp":"25°C","strain":"dbf2-S17/20A","dil":2,"gr":1},{"temp":"25°C","strain":"dbf2-S17/20A","dil":3,"gr":1},{"temp":"25°C","strain":"dbf2-S17/20A","dil":4,"gr":0.8},{"temp":"25°C","strain":"dbf2-S17/20A","dil":5,"gr":0.45},{"temp":"25°C","strain":"dbf2-S17/20A","dil":6,"gr":0.25},
  {"temp":"25°C","strain":"dbf2-S17/20D","dil":1,"gr":1},{"temp":"25°C","strain":"dbf2-S17/20D","dil":2,"gr":1},{"temp":"25°C","strain":"dbf2-S17/20D","dil":3,"gr":1},{"temp":"25°C","strain":"dbf2-S17/20D","dil":4,"gr":0.8},{"temp":"25°C","strain":"dbf2-S17/20D","dil":5,"gr":0.6},{"temp":"25°C","strain":"dbf2-S17/20D","dil":6,"gr":0.3},
  {"temp":"30°C","strain":"DBF2","dil":1,"gr":1},{"temp":"30°C","strain":"DBF2","dil":2,"gr":1},{"temp":"30°C","strain":"DBF2","dil":3,"gr":1},{"temp":"30°C","strain":"DBF2","dil":4,"gr":0.85},{"temp":"30°C","strain":"DBF2","dil":5,"gr":0.6},{"temp":"30°C","strain":"DBF2","dil":6,"gr":0.35},
  {"temp":"30°C","strain":"dbf2-S17/20A","dil":1,"gr":1},{"temp":"30°C","strain":"dbf2-S17/20A","dil":2,"gr":1},{"temp":"30°C","strain":"dbf2-S17/20A","dil":3,"gr":0.9},{"temp":"30°C","strain":"dbf2-S17/20A","dil":4,"gr":0.5},{"temp":"30°C","strain":"dbf2-S17/20A","dil":5,"gr":0.4},{"temp":"30°C","strain":"dbf2-S17/20A","dil":6,"gr":0.1},
  {"temp":"30°C","strain":"dbf2-S17/20D","dil":1,"gr":1},{"temp":"30°C","strain":"dbf2-S17/20D","dil":2,"gr":1},{"temp":"30°C","strain":"dbf2-S17/20D","dil":3,"gr":1},{"temp":"30°C","strain":"dbf2-S17/20D","dil":4,"gr":0.85},{"temp":"30°C","strain":"dbf2-S17/20D","dil":5,"gr":0.5},{"temp":"30°C","strain":"dbf2-S17/20D","dil":6,"gr":0.3},
  {"temp":"32°C","strain":"DBF2","dil":1,"gr":0.45},{"temp":"32°C","strain":"DBF2","dil":2,"gr":0.28},{"temp":"32°C","strain":"DBF2","dil":3,"gr":0.1},
  {"temp":"34°C","strain":"DBF2","dil":1,"gr":0.4},{"temp":"34°C","strain":"DBF2","dil":2,"gr":0.15}
 ]
},
"columns": 1,
"align": "none",
"spacing": 22,
"concat": [
 {
  "title": {"text": "A", "anchor": "start", "fontSize": 19, "fontWeight": "bold", "color": "#000", "offset": -11},
  "bounds": "flush",
  "spacing": 0,
  "resolve": {"scale": {"strokeDash": "independent", "color": "independent", "stroke": "independent", "x": "independent", "y": "independent"}, "legend": {"strokeDash": "independent", "color": "independent", "stroke": "independent"}},
  "hconcat": [
   {
    "width": 101, "height": 141,
    "title": {"text": "Mob1"},
    "data": {"name": "lineA"},
    "transform": [{"filter": "datum.p == 'Mob1'"}],
    "encoding": {
     "x": {"field": "t", "type": "quantitative", "scale": {"domain": [-40, 60]}, "axis": {"values": [-40, -20, 0, 20, 40, 60], "title": null, "labelFontSize": 9.5, "labelExpr": "replace(datum.label, '−', '-')"}},
     "y": {"field": "m", "type": "quantitative", "scale": {"domain": [0, 2]}, "axis": {"values": [0, 0.5, 1, 1.5, 2], "format": "~g", "title": ["Enrichment in nucleolus", "(Inucleolus/Icytosol - 1)"], "titlePadding": 8, "titleLineHeight": 16}}
    },
    "layer": [
     {"mark": {"type": "errorband", "color": "#5b7fd9", "band": {"opacity": 0.28}}, "encoding": {"yError": {"field": "e"}, "detail": {"field": "g"}}},
     {"mark": {"type": "line", "color": "#0072BD", "strokeWidth": 1.8}, "encoding": {"strokeDash": {"field": "g", "type": "nominal", "scale": {"domain": ["DBF2", "dbf2-S17/20A", "dbf2-S17/20D"], "range": [[1, 0], [6, 3], [1.5, 2]]}, "legend": {"orient": "top-left", "title": null, "offset": 0, "padding": 0, "symbolType": "M-2,0H2", "symbolSize": 121, "symbolOffset": 11.5, "labelOffset": 9.5, "rowPadding": 2.5, "labelFontStyle": "italic", "symbolStrokeColor": "#0072BD", "symbolStrokeWidth": 1.8, "symbolFillColor": "transparent"}}}}
    ]
   },
   {"width": 35, "height": 141, "mark": "point", "data": {"values": []}},
   {
    "width": 102, "height": 141,
    "title": {"text": "Mob1Δ78"},
    "data": {"name": "lineA"},
    "transform": [{"filter": "datum.p == 'Mob1Δ78'"}],
    "encoding": {
     "x": {"field": "t", "type": "quantitative", "scale": {"domain": [-40, 60]}, "axis": {"values": [-40, -20, 0, 20, 40, 60], "title": "Time since anaphase onset (min)", "titlePadding": 8, "labelFontSize": 9.5, "labelExpr": "replace(datum.label, '−', '-')"}},
     "y": {"field": "m", "type": "quantitative", "scale": {"domain": [0, 2]}, "axis": {"values": [0, 0.5, 1, 1.5, 2], "format": "~g", "title": null}}
    },
    "layer": [
     {"mark": {"type": "errorband", "color": "#e8733a", "band": {"opacity": 0.28}}, "encoding": {"yError": {"field": "e"}, "detail": {"field": "g"}}},
     {"mark": {"type": "line", "color": "#D95319", "strokeWidth": 1.8}, "encoding": {"strokeDash": {"field": "g", "type": "nominal", "scale": {"domain": ["DBF2", "dbf2-S17/20A", "dbf2-S17/20D"], "range": [[1, 0], [6, 3], [1.5, 2]]}, "legend": {"orient": "top-left", "title": null, "offset": 0, "padding": 0, "symbolType": "M-2,0H2", "symbolSize": 121, "symbolOffset": 11.5, "labelOffset": 9.5, "rowPadding": 2.5, "labelFontStyle": "italic", "symbolStrokeColor": "#D95319", "symbolStrokeWidth": 1.8, "symbolFillColor": "transparent"}}}}
    ]
   },
   {"width": 35, "height": 141, "mark": "point", "data": {"values": []}},
   {
    "width": 102, "height": 141,
    "title": {"text": "Mob1Δ132"},
    "data": {"name": "lineA"},
    "transform": [{"filter": "datum.p == 'Mob1Δ132'"}],
    "encoding": {
     "x": {"field": "t", "type": "quantitative", "scale": {"domain": [-40, 60]}, "axis": {"values": [-40, -20, 0, 20, 40, 60], "title": null, "labelFontSize": 9.5, "labelExpr": "replace(datum.label, '−', '-')"}},
     "y": {"field": "m", "type": "quantitative", "scale": {"domain": [0, 2]}, "axis": {"values": [0, 0.5, 1, 1.5, 2], "format": "~g", "title": null}}
    },
    "layer": [
     {"mark": {"type": "errorband", "color": "#f0b830", "band": {"opacity": 0.3}}, "encoding": {"yError": {"field": "e"}, "detail": {"field": "g"}}},
     {"mark": {"type": "line", "color": "#EDB120", "strokeWidth": 1.8}, "encoding": {"strokeDash": {"field": "g", "type": "nominal", "scale": {"domain": ["DBF2", "dbf2-S17/20A", "dbf2-S17/20D"], "range": [[1, 0], [6, 3], [1.5, 2]]}, "legend": {"orient": "top-left", "title": null, "offset": 0, "padding": 0, "symbolType": "M-2,0H2", "symbolSize": 121, "symbolOffset": 11.5, "labelOffset": 9.5, "rowPadding": 2.5, "labelFontStyle": "italic", "symbolStrokeColor": "#EDB120", "symbolStrokeWidth": 1.8, "symbolFillColor": "transparent"}}}}
    ]
   },
   {"width": 59, "height": 141, "mark": "point", "data": {"values": []}},
   {
    "width": 243, "height": 141,
    "layer": [
     {
      "data": {"name": "dots"},
      "transform": [
       {"bin": {"step": 0.08, "extent": [0, 3]}, "field": "v", "as": "vb"},
       {"window": [{"op": "row_number", "as": "r"}], "groupby": ["c", "vb"], "sort": [{"field": "v", "order": "descending"}]}
      ],
      "resolve": {"scale": {"xOffset": "independent"}},
      "layer": [
       {
        "transform": [{"filter": "datum.r % 2 == 1"}],
        "mark": {"type": "point", "filled": false, "size": 16, "strokeWidth": 0.8, "opacity": 0.8},
        "encoding": {
         "x": {"field": "c", "type": "nominal"},
         "xOffset": {"field": "r", "type": "quantitative", "scale": {"domain": [1, 21], "range": [13.5, 48.5], "zero": false, "nice": false}},
         "y": {"field": "v", "type": "quantitative"},
         "stroke": {"field": "c", "type": "nominal", "scale": {"domain": ["Mob1|WT","Mob1|2A","Mob1|2D","Mob1Δ78|WT","Mob1Δ78|2A","Mob1Δ78|2D","Mob1Δ132|WT","Mob1Δ132|2A","Mob1Δ132|2D"], "range": ["#7d98e3","#7d98e3","#7d98e3","#e4845a","#e4845a","#e4845a","#f1c14a","#f1c14a","#f1c14a"]}, "legend": null}
        }
       },
       {
        "transform": [{"filter": "datum.r % 2 == 0"}],
        "mark": {"type": "point", "filled": false, "size": 16, "strokeWidth": 0.8, "opacity": 0.8},
        "encoding": {
         "x": {"field": "c", "type": "nominal"},
         "xOffset": {"field": "r", "type": "quantitative", "scale": {"domain": [0, 20], "range": [13.5, -21.5], "zero": false, "nice": false}},
         "y": {"field": "v", "type": "quantitative"},
         "stroke": {"field": "c", "type": "nominal", "legend": null}
        }
       },
       {
        "mark": {"type": "tick", "thickness": 3.5, "size": 21},
        "encoding": {
         "x": {"field": "c", "type": "nominal"},
         "y": {"field": "v", "type": "quantitative", "aggregate": "median"},
         "color": {"field": "c", "type": "nominal", "scale": {"domain": ["Mob1|WT","Mob1|2A","Mob1|2D","Mob1Δ78|WT","Mob1Δ78|2A","Mob1Δ78|2D","Mob1Δ132|WT","Mob1Δ132|2A","Mob1Δ132|2D"], "range": ["#0072BD","#0072BD","#0072BD","#D95319","#D95319","#D95319","#EDB120","#EDB120","#EDB120"]}, "legend": null}
        }
       }
      ]
     },
     {
      "data": {"name": "sig"},
      "mark": {"type": "rule", "color": "#555", "strokeWidth": 0.9},
      "encoding": {
       "x": {"field": "a", "type": "nominal", "bandPosition": 0.5},
       "x2": {"field": "b", "bandPosition": 0.5},
       "y": {"field": "y", "type": "quantitative"}
      }
     },
     {
      "data": {"name": "sig"},
      "transform": [{"filter": "datum.k == 'short'"}],
      "mark": {"type": "text", "fontSize": 8, "color": "#333", "baseline": "bottom", "dy": -1},
      "encoding": {
       "x": {"field": "b", "type": "nominal", "bandPosition": 0},
       "y": {"field": "y", "type": "quantitative"},
       "text": {"field": "s"},
       "fontStyle": {"condition": {"test": "datum.s == 'ns'", "value": "italic"}, "value": "normal"}
      }
     },
     {
      "data": {"name": "sig"},
      "transform": [{"filter": "datum.k == 'long'"}],
      "mark": {"type": "text", "fontSize": 8, "color": "#333", "baseline": "bottom", "dy": -1},
      "encoding": {
       "x": {"field": "mid", "type": "nominal", "bandPosition": 0.5},
       "y": {"field": "y", "type": "quantitative"},
       "text": {"field": "s"},
       "fontStyle": {"condition": {"test": "datum.s == 'ns'", "value": "italic"}, "value": "normal"}
      }
     },
     {
      "data": {"name": "groups"},
      "mark": {"type": "rule", "color": "#bdbdbd", "strokeWidth": 2},
      "encoding": {
       "x": {"field": "a", "type": "nominal", "bandPosition": 0.13},
       "x2": {"field": "b", "bandPosition": 0.87},
       "y": {"datum": -0.38}
      }
     },
     {
      "data": {"name": "groups"},
      "mark": {"type": "text", "fontSize": 11, "color": "#333", "baseline": "middle"},
      "encoding": {
       "x": {"field": "mid", "type": "nominal", "bandPosition": 0.5},
       "y": {"datum": -0.56},
       "text": {"field": "g"}
      }
     },
     {
      "data": {"values": [{"lab": "DBF2"}]},
      "mark": {"type": "text", "fontSize": 10, "fontStyle": "italic", "color": "#333", "align": "left", "baseline": "middle", "dx": 4},
      "encoding": {
       "x": {"datum": "Mob1Δ132|2D", "type": "nominal", "bandPosition": 1},
       "y": {"datum": -0.21},
       "text": {"field": "lab"}
      }
     }
    ],
    "encoding": {
     "x": {"type": "nominal", "scale": {"domain": ["Mob1|WT","Mob1|2A","Mob1|2D","Mob1Δ78|WT","Mob1Δ78|2A","Mob1Δ78|2D","Mob1Δ132|WT","Mob1Δ132|2A","Mob1Δ132|2D"], "paddingInner": 0, "paddingOuter": 0}, "axis": {"title": null, "labelExpr": "split(datum.value, '|')[1]", "labelAngle": 0, "labelColor": "#222", "labelFontSize": 10.5, "labelPadding": 4}},
     "y": {"type": "quantitative", "scale": {"domain": [0, 3], "range": [141, 14], "nice": false}, "axis": {"values": [0, 1, 2, 3], "title": "Maximum enrichment in nucleolus", "titlePadding": 8}}
    }
   }
  ]
 },
 {
  "title": {"text": "B", "anchor": "start", "fontSize": 19, "fontWeight": "bold", "color": "#000", "offset": -4},
  "bounds": "flush",
  "spacing": 32,
  "resolve": {"scale": {"color": "independent", "x": "independent", "y": "independent"}, "legend": {"color": "independent"}},
  "hconcat": [
   {
    "width": 105, "height": 142,
    "title": {"text": "DBF2", "fontStyle": "italic"},
    "data": {"name": "lineB"},
    "transform": [{"filter": "datum.s == 'DBF2'"}],
    "encoding": {
     "x": {"field": "t", "type": "quantitative", "scale": {"domain": [0, 5]}, "axis": {"values": [0, 1, 2, 3, 4, 5], "title": null}},
     "y": {"field": "m", "type": "quantitative", "scale": {"domain": [0, 1.5]}, "axis": {"values": [0, 0.5, 1, 1.5], "format": "~g", "title": ["Relative enrichment of Mob1", "in the nucleolus"], "titlePadding": 8, "titleLineHeight": 16}}
    },
    "layer": [
     {"transform": [{"filter": "datum.ph == 'Pre-anaphase'"}], "mark": {"type": "errorband", "color": "#5d78d8", "band": {"opacity": 0.3}}, "encoding": {"yError": {"field": "e"}}},
     {"transform": [{"filter": "datum.ph == 'Anaphase'"}], "mark": {"type": "errorband", "color": "#e8834f", "band": {"opacity": 0.3}}, "encoding": {"yError": {"field": "e"}}},
     {"mark": {"type": "line", "strokeWidth": 2}, "encoding": {"color": {"field": "ph", "type": "nominal", "scale": {"domain": ["Pre-anaphase", "Anaphase"], "range": ["#0072BD", "#D95319"]}, "legend": {"orient": "top-left", "title": null, "offset": 5, "padding": 3, "strokeColor": "#8c8c8c", "fillColor": "white", "symbolType": "M-2.2,0H2.2", "symbolSize": 121, "symbolOffset": 5.5, "symbolStrokeWidth": 2, "symbolFillColor": "transparent", "labelOffset": 10.5, "labelFontSize": 10, "rowPadding": -1}}}}
    ]
   },
   {
    "width": 105, "height": 142,
    "title": {"text": "dbf2-S17/20A", "fontStyle": "italic"},
    "data": {"name": "lineB"},
    "transform": [{"filter": "datum.s == 'dbf2-S17/20A'"}],
    "encoding": {
     "x": {"field": "t", "type": "quantitative", "scale": {"domain": [0, 5]}, "axis": {"values": [0, 1, 2, 3, 4, 5], "title": "Time of 650 nm light exposure (min)", "titlePadding": 8}},
     "y": {"field": "m", "type": "quantitative", "scale": {"domain": [0, 1.5]}, "axis": {"values": [0, 0.5, 1, 1.5], "format": "~g", "title": null}}
    },
    "layer": [
     {"transform": [{"filter": "datum.ph == 'Pre-anaphase'"}], "mark": {"type": "errorband", "color": "#5d78d8", "band": {"opacity": 0.3}}, "encoding": {"yError": {"field": "e"}}},
     {"transform": [{"filter": "datum.ph == 'Anaphase'"}], "mark": {"type": "errorband", "color": "#e8834f", "band": {"opacity": 0.3}}, "encoding": {"yError": {"field": "e"}}},
     {"mark": {"type": "line", "strokeWidth": 2}, "encoding": {"color": {"field": "ph", "type": "nominal", "scale": {"domain": ["Pre-anaphase", "Anaphase"], "range": ["#0072BD", "#D95319"]}, "legend": {"orient": "top-left", "title": null, "offset": 5, "padding": 3, "strokeColor": "#8c8c8c", "fillColor": "white", "symbolType": "M-2.2,0H2.2", "symbolSize": 121, "symbolOffset": 5.5, "symbolStrokeWidth": 2, "symbolFillColor": "transparent", "labelOffset": 10.5, "labelFontSize": 10, "rowPadding": -1}}}}
    ]
   },
   {
    "width": 105, "height": 142,
    "title": {"text": "dbf2-S17/20D", "fontStyle": "italic"},
    "data": {"name": "lineB"},
    "transform": [{"filter": "datum.s == 'dbf2-S17/20D'"}],
    "encoding": {
     "x": {"field": "t", "type": "quantitative", "scale": {"domain": [0, 5]}, "axis": {"values": [0, 1, 2, 3, 4, 5], "title": null}},
     "y": {"field": "m", "type": "quantitative", "scale": {"domain": [0, 1.5]}, "axis": {"values": [0, 0.5, 1, 1.5], "format": "~g", "title": null}}
    },
    "layer": [
     {"transform": [{"filter": "datum.ph == 'Pre-anaphase'"}], "mark": {"type": "errorband", "color": "#5d78d8", "band": {"opacity": 0.3}}, "encoding": {"yError": {"field": "e"}}},
     {"transform": [{"filter": "datum.ph == 'Anaphase'"}], "mark": {"type": "errorband", "color": "#e8834f", "band": {"opacity": 0.3}}, "encoding": {"yError": {"field": "e"}}},
     {"mark": {"type": "line", "strokeWidth": 2}, "encoding": {"color": {"field": "ph", "type": "nominal", "scale": {"domain": ["Pre-anaphase", "Anaphase"], "range": ["#0072BD", "#D95319"]}, "legend": {"orient": "top-left", "title": null, "offset": 5, "padding": 3, "strokeColor": "#8c8c8c", "fillColor": "white", "symbolType": "M-2.2,0H2.2", "symbolSize": 121, "symbolOffset": 5.5, "symbolStrokeWidth": 2, "symbolFillColor": "transparent", "labelOffset": 10.5, "labelFontSize": 10, "rowPadding": -1}}}}
    ]
   }
  ]
 },
 {
  "title": {"text": "C", "anchor": "start", "fontSize": 19, "fontWeight": "bold", "color": "#000", "offset": -4, "dx": -10},
  "bounds": "flush",
  "spacing": 0,
  "hconcat": [
   {"width": 46, "height": 64, "mark": "point", "data": {"values": []}},
   {
    "width": 460, "height": 64,
    "resolve": {"scale": {"xOffset": "independent"}},
    "encoding": {
     "x": {"type": "nominal", "scale": {"domain": ["25°C","30°C","32°C","34°C","37°C"], "paddingInner": 0.057, "paddingOuter": 0}, "axis": {"orient": "top", "title": null, "domain": false, "labelAngle": 0, "labelFontSize": 12, "labelColor": "#111", "labelPadding": 3}},
     "y": {"type": "nominal", "scale": {"domain": ["DBF2","dbf2-S17/20A","dbf2-S17/20D"], "paddingInner": 0, "paddingOuter": 0}, "axis": {"title": "cdc15-2", "titleFontStyle": "italic", "titleFontWeight": "bold", "titleFontSize": 13, "titleColor": "#111", "offset": 71, "labelAlign": "left", "labelPadding": -5, "domain": true, "domainColor": "#666", "domainWidth": 1.5, "labelFontStyle": "italic", "labelFontSize": 10.5, "labelColor": "#222", "titlePadding": 7}}
    },
    "layer": [
     {
      "data": {"name": "plates"},
      "mark": {"type": "rect"},
      "encoding": {
       "x": {"field": "temp", "type": "nominal"},
       "color": {"field": "temp", "type": "nominal", "scale": {"domain": ["25°C","30°C","32°C","34°C","37°C"], "range": ["#6c6c71", "#79797d", "#7a7a7e", "#7b7b7f", "#77777b"]}, "legend": null}
      }
     },
     {
      "data": {"name": "spots"},
      "mark": {"type": "circle", "color": "#dedede"},
      "encoding": {
       "x": {"field": "temp", "type": "nominal"},
       "xOffset": {"field": "dil", "type": "ordinal", "scale": {"domain": [1,2,3,4,5,6], "paddingInner": 0, "paddingOuter": 0.3}},
       "y": {"field": "strain", "type": "nominal"},
       "opacity": {"field": "gr", "type": "quantitative", "scale": {"domain": [0, 1], "range": [0, 0.95]}, "legend": null},
       "size": {"field": "gr", "type": "quantitative", "scale": {"domain": [0, 1], "range": [35, 66]}, "legend": null}
      }
     }
    ]
   }
  ]
 }
]
}
